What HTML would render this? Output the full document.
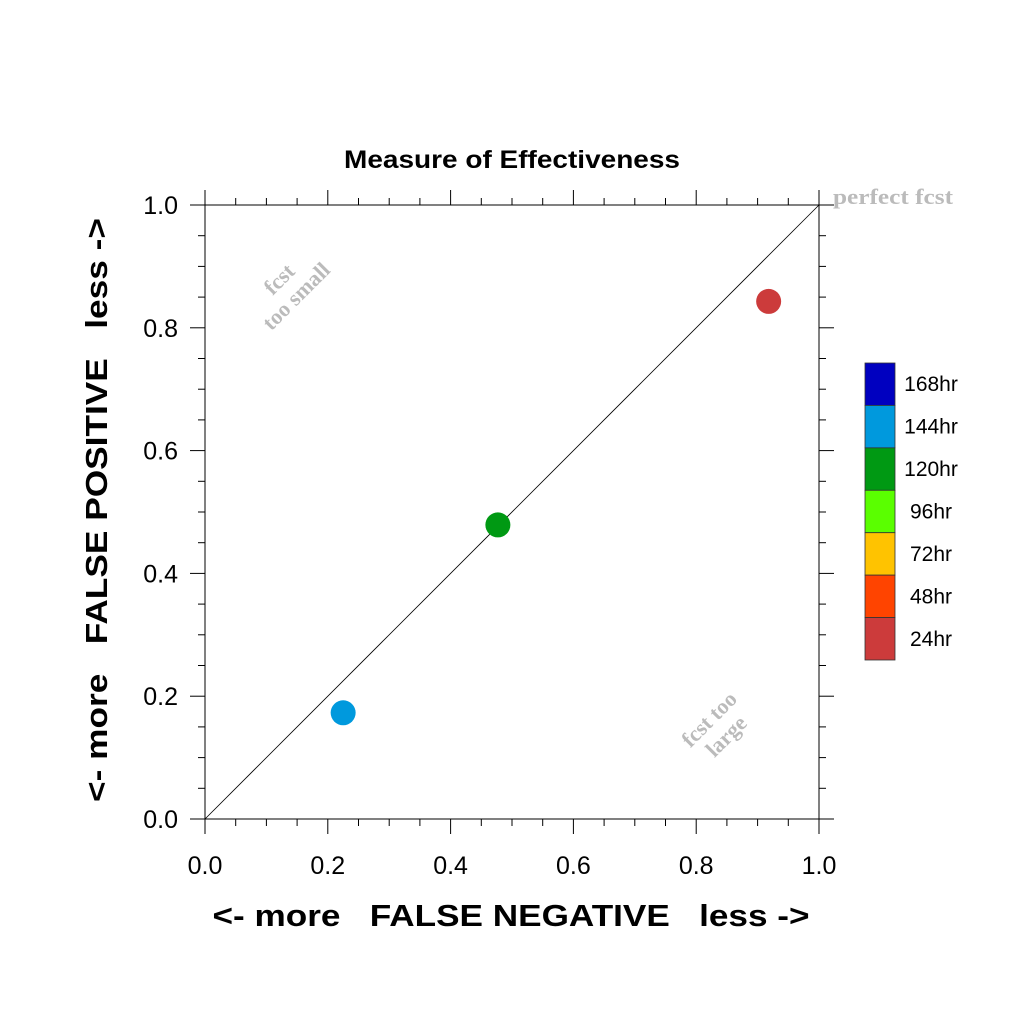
<!DOCTYPE html>
<html><head><meta charset="utf-8"><style>html,body{margin:0;padding:0;background:#fff}svg{display:block}</style></head>
<body>
<svg id="chart" width="1024" height="1024" xmlns="http://www.w3.org/2000/svg" font-family="Liberation Sans, sans-serif">
<g id="axes"></g>
<g id="marks"></g>
<g id="legend"></g>
<text x="512" y="168" text-anchor="middle" font-size="25" font-weight="bold" textLength="336" lengthAdjust="spacingAndGlyphs">Measure of Effectiveness</text>
<text x="511" y="926" text-anchor="middle" font-size="31" font-weight="bold" xml:space="preserve" textLength="597" lengthAdjust="spacingAndGlyphs">&lt;- more   FALSE NEGATIVE   less -&gt;</text>
<text transform="translate(107,510) rotate(-90)" text-anchor="middle" font-size="31" font-weight="bold" xml:space="preserve" textLength="584" lengthAdjust="spacingAndGlyphs">&lt;- more   FALSE POSITIVE   less -&gt;</text>
<text x="833" y="204" font-family="Liberation Serif, serif" font-size="22" font-weight="bold" fill="#bbb" textLength="120" lengthAdjust="spacingAndGlyphs">perfect fcst</text>
<g transform="translate(290,290) rotate(-45)" font-family="Liberation Serif, serif" font-size="22" font-weight="bold" fill="#bbb" text-anchor="middle">
<text x="0" y="-8">fcst</text><text x="0" y="16">too small</text></g>
<g transform="translate(720,730) rotate(-45)" font-family="Liberation Serif, serif" font-size="22" font-weight="bold" fill="#bbb" text-anchor="middle">
<text x="0" y="-8">fcst too</text><text x="0" y="16">large</text></g>
</svg>
<script>
const xTicks=[0,0.2,0.4,0.6,0.8,1.0];
const xTickLabels=["0.0","0.2","0.4","0.6","0.8","1.0"];
const pointX=[0.225,0.477,0.918];
const pointY=[0.173,0.479,0.843];
const pointColors=["#0099dd","#009913","#cc3b3b"];
const pointNames=["144hr","120hr","24hr"];
const legendLabels=["168hr","144hr","120hr","96hr","72hr","48hr","24hr"];
const legendColors=["#0000c0","#0099dd","#009913","#5aff00","#ffc300","#ff4400","#cc3b3b"];

const X0=205,X1=819,Y0=819,Y1=205;
const sx=v=>X0+(X1-X0)*v, sy=v=>Y0-(Y0-Y1)*v;
const NS="http://www.w3.org/2000/svg";
function mk(p,t,a){const e=document.createElementNS(NS,t);for(const k in a)e.setAttribute(k,a[k]);p.appendChild(e);return e;}
const ax=document.getElementById('axes');
let r=mk(ax,'rect',{x:X0,y:Y1,width:X1-X0,height:Y0-Y1,fill:'none',stroke:'#000','stroke-width':1});


let d=mk(ax,'line',{x1:sx(0),y1:sy(0),x2:sx(1),y2:sy(1),stroke:'#000','stroke-width':0.8});


for(let i=0;i<=20;i++){
  const v=i/20, major=i%4===0, L=major?15:7;
  const x=sx(v), y=sy(v);
  [[x,Y0,x,Y0+L],[x,Y1,x,Y1-L],[X0,y,X0-L,y],[X1,y,X1+L,y]].forEach(c=>{
    const t=mk(ax,'line',{x1:c[0],y1:c[1],x2:c[2],y2:c[3],stroke:'#000','stroke-width':1});
    
    
  });
}
xTicks.forEach((v,i)=>{
  const tx=mk(ax,'text',{x:sx(v),y:874,'text-anchor':'middle','font-size':25});
  tx.textContent=xTickLabels[i];
  
  
  const ty=mk(ax,'text',{x:178,y:sy(v)+9,'text-anchor':'end','font-size':25});
  ty.textContent=xTickLabels[i];
  
  
});
const mg=document.getElementById('marks');
pointX.forEach((v,i)=>{
  const c=mk(mg,'circle',{cx:sx(v),cy:sy(pointY[i]),r:12.5,fill:pointColors[i]});
  
  
});
const lg=document.getElementById('legend');
const LT=363,LH=(660-363)/legendLabels.length;
legendLabels.forEach((l,i)=>{
  const b=mk(lg,'rect',{x:865,y:LT+i*LH,width:30,height:LH,fill:legendColors[i],stroke:'#333','stroke-width':0.8});
  
  
  const t=mk(lg,'text',{x:931,y:LT+i*LH+LH/2+7,'text-anchor':'middle','font-size':21});
  t.textContent=l;
  
  
});
</script>
</body></html>
